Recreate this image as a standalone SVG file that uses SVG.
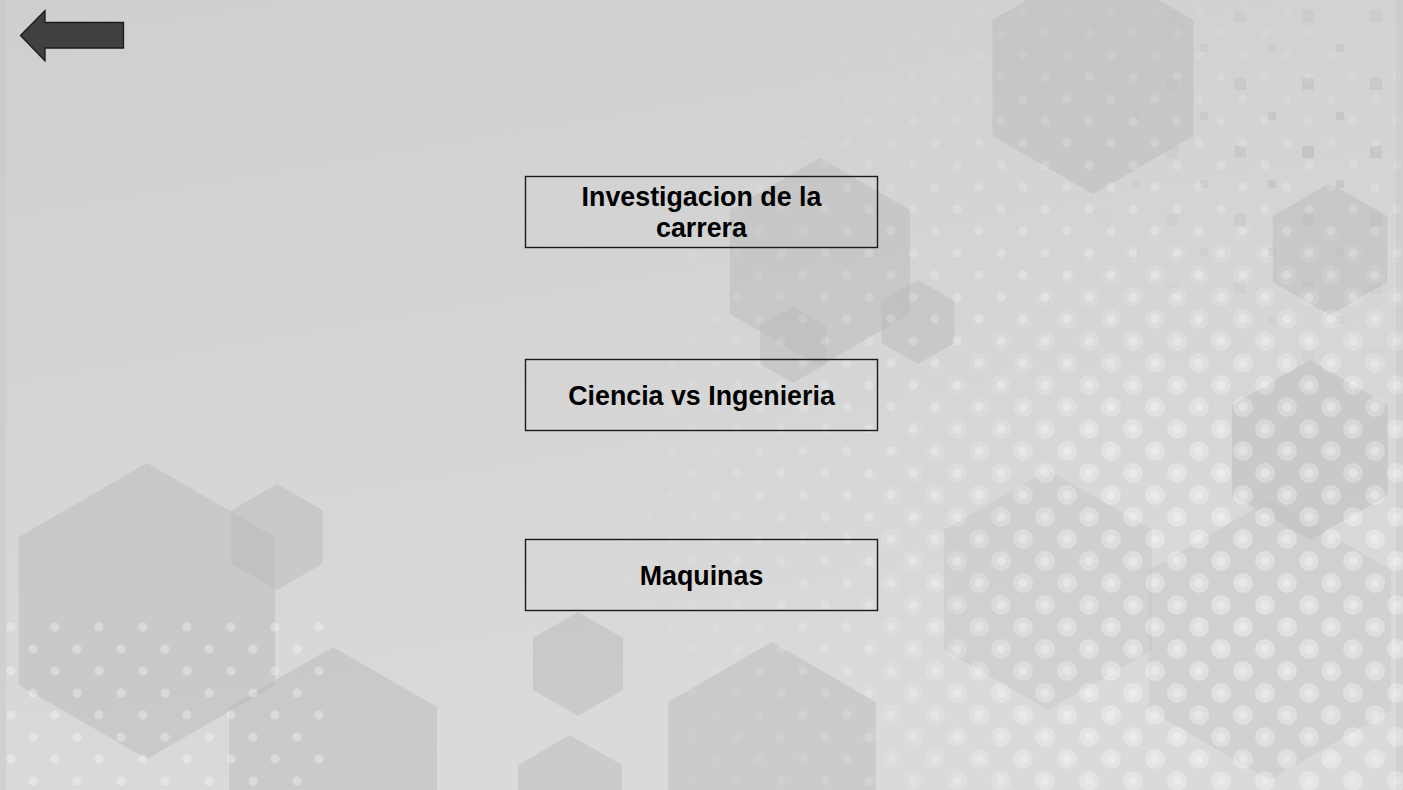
<svg xmlns="http://www.w3.org/2000/svg" xmlns:xlink="http://www.w3.org/1999/xlink" width="1403" height="790" viewBox="0 0 1403 790">
<style>
.box{fill:none;stroke:#1a1a1a;stroke-width:1.4}
.lbl{font-family:"Liberation Sans",Arial,sans-serif;font-weight:bold;font-size:26.8px;fill:#000000;text-anchor:middle}
.hx{fill:#b8b8b8;opacity:0.45}
.hxl{fill:#c0c0c0;opacity:0.35}
</style>
<defs>
<linearGradient id="bg" x1="0" y1="0" x2="0.3" y2="1">
<stop offset="0" stop-color="#cfcfcf"/>
<stop offset="1" stop-color="#dadada"/>
</linearGradient>
<polygon id="hex" points="0,-1 0.866,-0.5 0.866,0.5 0,1 -0.866,0.5 -0.866,-0.5"/>
<pattern id="dotsL" width="44" height="44" patternUnits="userSpaceOnUse">
<circle cx="11" cy="11" r="10" fill="#ffffff"/>
<circle cx="33" cy="33" r="10" fill="#ffffff"/>
</pattern>
<pattern id="dotsS" width="44" height="44" patternUnits="userSpaceOnUse">
<circle cx="11" cy="11" r="4.5" fill="#ffffff"/>
<circle cx="33" cy="33" r="4.5" fill="#ffffff"/>
</pattern>
<pattern id="sq" width="68" height="68" patternUnits="userSpaceOnUse">
<rect x="10" y="10" width="12" height="12" fill="#b5b5b5"/>
<rect x="44" y="44" width="8" height="8" fill="#b5b5b5"/>
</pattern>
<radialGradient id="fadeR" cx="1250" cy="620" r="420" gradientUnits="userSpaceOnUse">
<stop offset="0" stop-color="#fff" stop-opacity="1"/>
<stop offset="0.6" stop-color="#fff" stop-opacity="0.7"/>
<stop offset="1" stop-color="#fff" stop-opacity="0"/>
</radialGradient>
<radialGradient id="fadeS" cx="1150" cy="500" r="560" gradientUnits="userSpaceOnUse">
<stop offset="0.4" stop-color="#fff" stop-opacity="0.8"/>
<stop offset="1" stop-color="#fff" stop-opacity="0"/>
</radialGradient>
<radialGradient id="fadeQ" cx="1320" cy="150" r="260" gradientUnits="userSpaceOnUse">
<stop offset="0" stop-color="#fff" stop-opacity="0.8"/>
<stop offset="1" stop-color="#fff" stop-opacity="0"/>
</radialGradient>
<mask id="mR"><rect width="1403" height="790" fill="url(#fadeR)"/></mask>
<mask id="mS"><rect width="1403" height="790" fill="url(#fadeS)"/></mask>
<mask id="mQ"><rect width="1403" height="790" fill="url(#fadeQ)"/></mask>
</defs>

<g id="background">
<rect width="1403" height="790" fill="url(#bg)"/>
<rect x="0" y="0" width="6" height="790" fill="#c8c8c8" opacity="0.5"/>
<rect x="1396" y="0" width="7" height="790" fill="#c8c8c8" opacity="0.5"/>
<rect width="1403" height="790" fill="url(#sq)" mask="url(#mQ)" opacity="0.6"/>
<use xlink:href="#hex" class="hx" transform="translate(1093,78) scale(116)"/>
<use xlink:href="#hex" class="hx" transform="translate(1330,249) scale(66)"/>
<use xlink:href="#hex" class="hx" transform="translate(1310,450) scale(90)"/>
<use xlink:href="#hex" class="hxl" transform="translate(1048,590) scale(120)"/>
<use xlink:href="#hex" class="hxl" transform="translate(1270,640) scale(140)"/>
<use xlink:href="#hex" class="hx" transform="translate(820,262) scale(104)"/>
<use xlink:href="#hex" class="hx" transform="translate(918,322) scale(42)"/>
<use xlink:href="#hex" class="hx" transform="translate(793,345) scale(38)"/>
<use xlink:href="#hex" class="hx" transform="translate(147,611) scale(148)"/>
<use xlink:href="#hex" class="hx" transform="translate(277,537) scale(53)"/>
<use xlink:href="#hex" class="hx" transform="translate(333,767) scale(120)"/>
<use xlink:href="#hex" class="hx" transform="translate(578,664) scale(52)"/>
<use xlink:href="#hex" class="hx" transform="translate(772,762) scale(120)"/>
<use xlink:href="#hex" class="hx" transform="translate(570,795) scale(60)"/>
<rect width="1403" height="790" fill="url(#dotsS)" mask="url(#mS)" opacity="0.35"/>
<rect width="1403" height="790" fill="url(#dotsL)" mask="url(#mR)" opacity="0.35"/>
<rect x="0" y="610" width="330" height="180" fill="url(#dotsS)" opacity="0.3"/>
</g>

<g id="connectors"></g>

<g id="back-arrow">
<polygon points="20.5,35.5 45,10.5 45,22.5 123.5,22.5 123.5,48 45,48 45,61 20.5,35.5" fill="#404040" stroke="#1a1a1a" stroke-width="1.3" stroke-linejoin="miter"/>
</g>

<g id="node-investigacion">
<rect class="box" x="525.5" y="176.5" width="352" height="71"/>
<text class="lbl" x="701.5" y="205.5">Investigacion de la</text>
<text class="lbl" x="701.5" y="237">carrera</text>
</g>

<g id="node-ciencia">
<rect class="box" x="525.5" y="359.5" width="352" height="71"/>
<text class="lbl" x="701.5" y="405">Ciencia vs Ingenieria</text>
</g>

<g id="node-maquinas">
<rect class="box" x="525.5" y="539.5" width="352" height="71"/>
<text class="lbl" x="701.5" y="585">Maquinas</text>
</g>
</svg>
